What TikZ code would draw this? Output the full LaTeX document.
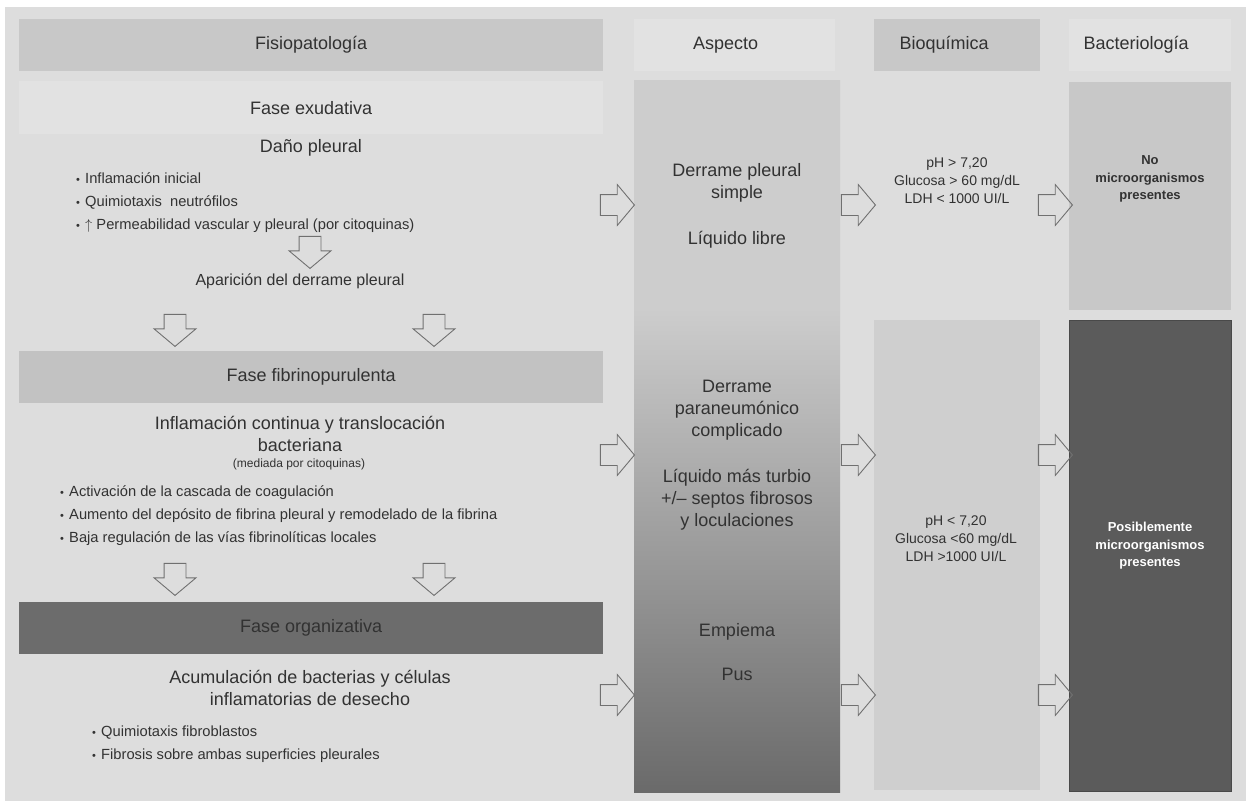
\documentclass[tikz,border=0pt]{standalone}
\usepackage{fontspec}
\setmainfont{Liberation Sans}
\usepackage{tikz}
\usetikzlibrary{shapes.arrows, positioning, calc}
\usepackage{xcolor}
\definecolor{bggray}{RGB}{221, 221, 221}
\definecolor{bandgray}{RGB}{226, 226, 226}
\definecolor{headgray}{RGB}{200, 200, 200}
\definecolor{fibgray}{RGB}{194, 194, 194}
\definecolor{orggray}{RGB}{108, 108, 108}
\definecolor{bioqgray}{RGB}{207, 207, 207}
\definecolor{bactdark}{RGB}{91, 91, 91}
\definecolor{txtgray}{RGB}{50, 50, 50}
\definecolor{arrowgray}{RGB}{112, 112, 112}
\definecolor{asptop}{RGB}{205, 205, 205}
\definecolor{aspbot}{RGB}{106, 106, 106}

\pgfdeclareverticalshading{aspshade}{100bp}{color(0bp)=(aspbot); color(25bp)=(aspbot);
  color(59bp)=(asptop); color(100bp)=(asptop)}

\newcommand{\bul}{\makebox[9pt][l]{\fontsize{11}{11}\selectfont\textbullet}}

\begin{document}
\begin{tikzpicture}[
  x=1pt, y=-1pt,
  box/.style   = {rectangle, anchor=north west, inner sep=0pt, text=txtgray,
                  font=\fontsize{18}{22}\selectfont},
  big/.style   = {font=\fontsize{18}{22}\selectfont, text=txtgray, align=center, inner sep=0pt},
  lst/.style   = {font=\fontsize{14.7}{23}\selectfont, text=txtgray, align=left,
                  anchor=west, inner sep=0pt},
  lab/.style   = {font=\fontsize{14}{18}\selectfont, text=txtgray, align=center, inner sep=0pt},
  bact/.style  = {font=\fontsize{13}{17.5}\selectfont\bfseries, text=txtgray, align=center,
                  inner sep=0pt},
  rarr/.style  = {single arrow, draw=arrowgray, line width=0.9pt, inner xsep=0pt,
                  inner ysep=10pt, single arrow head extend=10pt, single arrow tip angle=100,
                  minimum height=34pt, anchor=tip},
  darr/.style  = {rarr, shape border rotate=270, inner xsep=10.5pt, inner ysep=0pt,
                  minimum height=32pt}
]
\fill[white] (0,0) rectangle (1246,801);
\useasboundingbox (0,0) rectangle (1246,801);
\fill[bggray] (5,7) rectangle (1246,801);

%% Headers
\node[box, fill=headgray, minimum width=584pt, minimum height=52pt] (fisio) at (19,19)
  {Fisiopatología};
\node[box, fill=bandgray, minimum width=201pt, minimum height=52pt] (asph) at (634,19)
  {Aspecto\hspace*{18pt}};
\node[box, fill=headgray, minimum width=166pt, minimum height=52pt] (bioqh) at (874,19)
  {Bioquímica\hspace*{26pt}};
\node[box, fill=bandgray, minimum width=162pt, minimum height=52pt] (bacth) at (1069,19)
  {Bacteriología\hspace*{28pt}};

%% Fase exudativa
\node[box, fill=bandgray, minimum width=584pt, minimum height=53pt] (exud) at (19,81)
  {Fase exudativa};
\node[big] (dano) at (311,148) {Daño pleural};
\node[lst] (list1) at (76,203)
  {\bul Inflamación inicial\\
   \bul Quimiotaxis\ \ neutrófilos\\
   \bul $\uparrow$ Permeabilidad vascular y pleural (por citoquinas)};
\node[darr] (d0) at (310,269) {};
\node[big, font=\fontsize{16}{20}\selectfont] (apar) at (300,281) {Aparición del derrame pleural};
\node[darr] (d1) at (175,347) {};
\node[darr] (d2) at (434,347) {};

%% Fase fibrinopurulenta
\node[box, fill=fibgray, minimum width=584pt, minimum height=52pt] (fibr) at (19,351)
  {Fase fibrinopurulenta};
\node[big] (infl) at (300,434) {Inflamación continua y translocación\\bacteriana};
\node[big, font=\fontsize{12}{14}\selectfont] (med) at (299,464) {(mediada por citoquinas)};
\node[lst] (list2) at (60,516)
  {\bul Activación de la cascada de coagulación\\
   \bul Aumento del depósito de fibrina pleural y remodelado de la fibrina\\
   \bul Baja regulación de las vías fibrinolíticas locales};
\node[darr] (d3) at (175,596) {};
\node[darr] (d4) at (434,596) {};

%% Fase organizativa
\node[box, fill=orggray, minimum width=584pt, minimum height=52pt] (orga) at (19,602)
  {Fase organizativa};
\node[big] (acum) at (310,688) {Acumulación de bacterias y células\\inflamatorias de desecho};
\node[lst] (list3) at (92,744)
  {\bul Quimiotaxis fibroblastos\\
   \bul Fibrosis sobre ambas superficies pleurales};

%% Aspecto
\node[box, shade, shading=aspshade, minimum width=206pt, minimum height=712pt] (aspecto)
  at (634,80) {};
\node[big] (simple) at (737,183) {Derrame pleural\\simple};
\node[big] (libre) at (737,240) {Líquido libre};
\node[big] (compl) at (737,410) {Derrame\\paraneumónico\\complicado};
\node[big] (turbio) at (737,500) {Líquido más turbio\\+/\textendash\ septos fibrosos\\y loculaciones};
\node[big] (empiema) at (737,632) {Empiema};
\node[big] (pus) at (737,674) {Pus};

%% Bioquímica
\node[lab] (bioq1) at (957,181) {pH > 7,20\\Glucosa > 60 mg/dL\\LDH < 1000 UI/L};
\node[box, fill=bioqgray, minimum width=166pt, minimum height=470pt] (bioqlow) at (874,320) {};
\node[lab] (bioq2) at (956,539) {pH < 7,20\\Glucosa <60 mg/dL\\LDH >1000 UI/L};

%% Bacteriología
\node[box, fill=headgray, minimum width=162pt, minimum height=228pt] (bacttop) at (1069,82) {};
\node[bact] (nomicro) at (1150,179) {No\\microorganismos\\presentes};
\node[box, fill=bactdark, draw=bactdark!80!black, minimum width=162pt, minimum height=471pt]
  (bactlow) at (1069,320) {};
\node[bact, text=white] (posib) at (1150,546) {Posiblemente\\microorganismos\\presentes};

%% Arrows to the right
\node[rarr] (r1a) at (635,205) {};
\node[rarr] (r1b) at (876,205) {};
\node[rarr] (r1c) at (1073,205) {};
\node[rarr] (r2a) at (635,455) {};
\node[rarr] (r2b) at (876,455) {};
\node[rarr] (r2c) at (1073,455) {};
\node[rarr] (r3a) at (635,695) {};
\node[rarr] (r3b) at (876,695) {};
\node[rarr] (r3c) at (1073,695) {};

\end{tikzpicture}
\end{document}
